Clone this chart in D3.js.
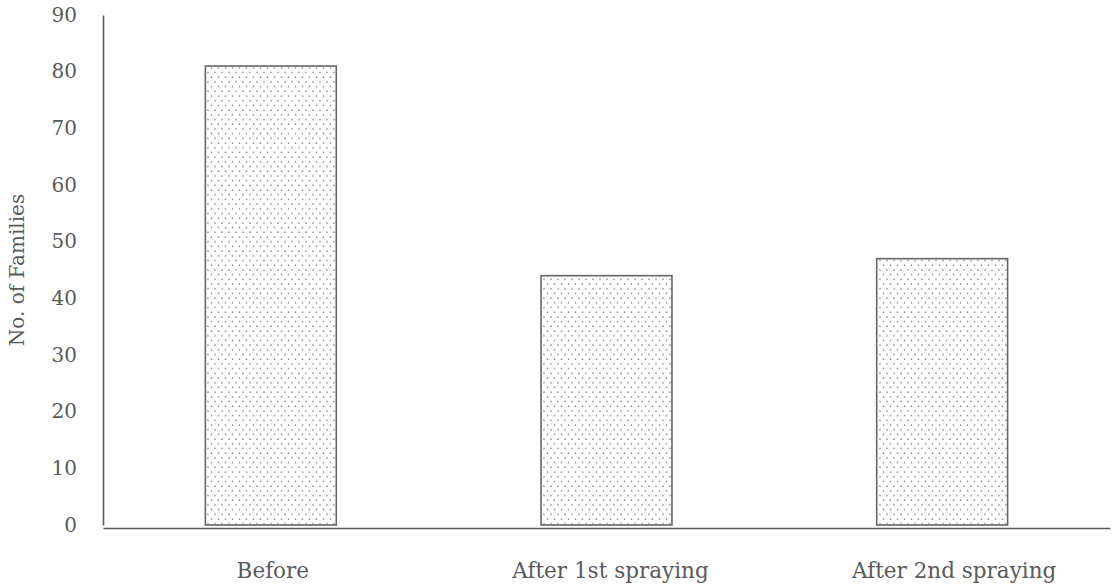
<!DOCTYPE html>
<html><head><meta charset="utf-8">
<script src="https://cdn.jsdelivr.net/npm/d3@7"></script>
<style>body{margin:0;background:#fff;} svg{display:block;}</style>
</head><body>
<svg id="c" width="1112" height="588"></svg>
<script>
const categories = ["Before", "After 1st spraying", "After 2nd spraying"];
const families = [81, 44, 47];
const yTicks = [0, 10, 20, 30, 40, 50, 60, 70, 80, 90];

const svg = d3.select("#c");
const ink = "#5a5a5a";
const font = "DejaVu Serif, Liberation Serif, serif";
const m = {left: 103, right: 2, top: 15, bottom: 63};
const W = 1112, H = 588;
const x = d3.scaleBand().domain(categories).range([m.left, W - m.right]).paddingInner(0.61).paddingOuter(0.305);
const y = d3.scaleLinear().domain([0, 90]).range([H - m.bottom, m.top]);

const defs = svg.append("defs");
const pat = defs.append("pattern").attr("id", "dots").attr("patternUnits", "userSpaceOnUse")
  .attr("width", 7).attr("height", 9.4);
pat.append("circle").attr("cx", 1.5).attr("cy", 2).attr("r", 0.8).attr("fill", "#888");
pat.append("circle").attr("cx", 5).attr("cy", 6.7).attr("r", 0.8).attr("fill", "#888");

svg.append("g").selectAll("rect").data(families).join("rect")
  .attr("x", (d, i) => x(categories[i]))
  .attr("y", d => y(d))
  .attr("width", x.bandwidth())
  .attr("height", d => y(0) - y(d))
  .attr("fill", "url(#dots)")
  .attr("stroke", "#666").attr("stroke-width", 1.6);

// axes
const yAxis = d3.axisLeft(y).tickValues(yTicks).tickSize(0).tickPadding(26);
const gy = svg.append("g").attr("transform", `translate(${m.left},0)`).call(yAxis);
gy.select(".domain").attr("stroke", ink).attr("stroke-width", 1.6);
gy.selectAll("text").attr("font-family", font)
  .attr("font-size", 20).attr("fill", ink).attr("text-anchor", "end").attr("dy", "0.3em");

const xAxis = d3.axisBottom(x).tickSize(0).tickPadding(35);
const gx = svg.append("g").attr("transform", `translate(0,${y(0) + 3})`).call(xAxis);
gx.select(".domain").attr("stroke", ink).attr("stroke-width", 1.6);
gx.selectAll("text").attr("font-family", font)
  .attr("font-size", 21.5).attr("fill", ink).attr("dx", (d, i) => [2, 4, 12][i]);

svg.append("text")
  .attr("transform", `translate(24,${y(45)}) rotate(-90)`)
  .attr("text-anchor", "middle")
  .attr("font-family", font)
  .attr("font-size", 20).attr("fill", ink)
  .text("No. of Families");
</script>
</body></html>
